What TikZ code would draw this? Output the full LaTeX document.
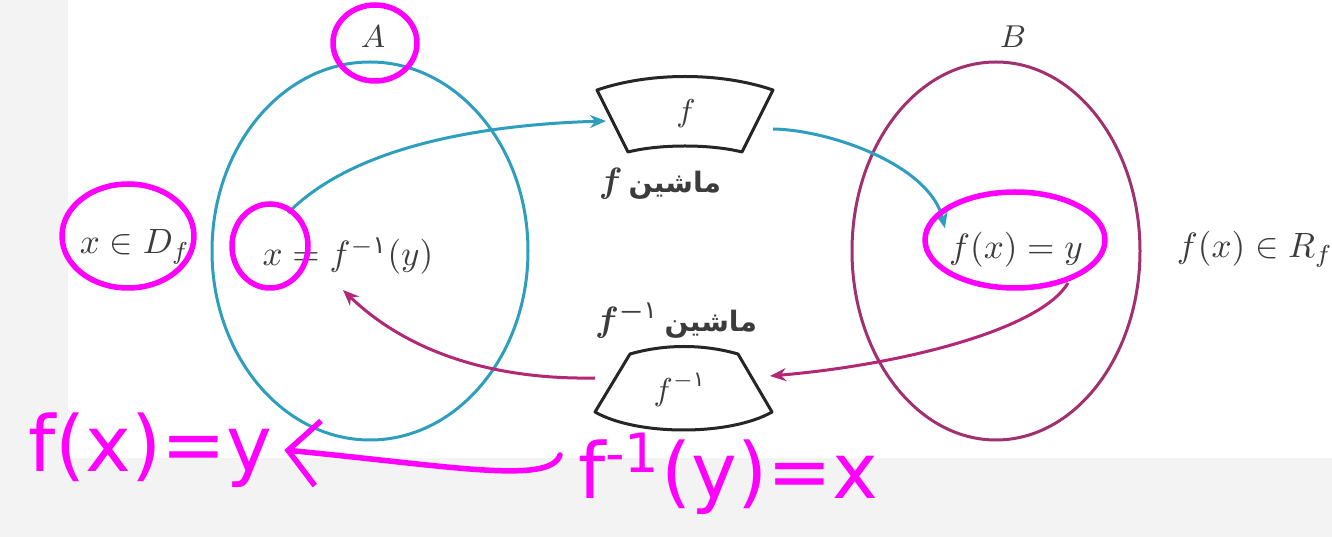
\documentclass[tikz,border=0pt]{standalone}
\usepackage{fontspec}
\usepackage{amsmath}
\usetikzlibrary{arrows.meta, positioning}
\TeXXeTstate=1
\newfontfamily\arabicfont[Script=Arabic]{DejaVu Sans}
\newfontfamily\handfont{DejaVu Sans}
\definecolor{setcyan}{RGB}{46,158,190}
\definecolor{setplum}{RGB}{160,48,110}
\definecolor{arrplum}{RGB}{178,40,118}
\definecolor{inkgray}{RGB}{60,60,60}
\definecolor{penpink}{RGB}{255,0,255}
\definecolor{paper}{RGB}{243,243,243}
\newcommand{\pone}{\text{\arabicfont ۱}}

\begin{document}
\begin{tikzpicture}[x=0.1mm, y=-0.1mm,
  setA/.style={draw=setcyan, line width=0.3mm},
  setB/.style={draw=setplum, line width=0.3mm},
  lbl/.style={text=inkgray, inner sep=1pt},
  machine/.style={draw=black!85, line width=0.3mm, line join=round},
  farr/.style={-{Stealth[length=1.6mm, width=1.3mm]}, draw=setcyan, line width=0.3mm},
  barr/.style={-{Stealth[length=1.6mm, width=1.3mm]}, draw=arrplum, line width=0.3mm},
  hand/.style={draw=penpink, line width=0.55mm, line cap=round, line join=round},
  handtxt/.style={text=penpink, font=\handfont\fontsize{22}{26}\selectfont},
]

% Paper
\fill[paper] (0,0) rectangle (1332,537);
\fill[white] (68,0) rectangle (1332,458);
\useasboundingbox (0,0) rectangle (1332,537);

% Sets
\draw[setA] (370,251) ellipse [x radius=158, y radius=189];
\draw[setB] (996,251) ellipse [x radius=144, y radius=189];
\node[lbl, font=\small] (lA) at (373,37) {$A$};
\node[lbl, font=\small] (lB) at (1013,37) {$B$};

% Elements
\node[lbl] (xdf) at (135,247) {$x \in D_f$};
\node[lbl] (xeq) at (348,256) {$x = f^{-\pone}(y)$};
\node[lbl] (fxy) at (1016,250) {$f(x) = y$};
\node[lbl] (frf) at (1255,249) {$f(x) \in R_f$};

% Machines
\draw[machine] (597,90) .. controls (650,72) and (720,72) .. (773,90)
  -- (742,152) .. controls (710,144) and (660,144) .. (628,152) -- cycle;
\node[lbl, font=\small] (mf) at (686,114) {$f$};
\node[lbl] (mfname) at (660,184) {{\boldmath$f$}\,{\arabicfont\bfseries\footnotesize\beginR ماشین\endR}};

\draw[machine] (630,354) .. controls (665,344) and (703,344) .. (738,354)
  -- (772,412) .. controls (730,436) and (637,436) .. (595,412) -- cycle;
\node[lbl, font=\small] (mfi) at (680,390) {$f^{-\pone}$};
\node[lbl] (mfiname) at (676,320) {{\boldmath$f^{-\pone}$}\,{\arabicfont\bfseries\footnotesize\beginR ماشین\endR}};

% Ports
\coordinate (xs)   at (288,213);
\coordinate (fin)  at (606,121);
\coordinate (fout) at (773,129);
\coordinate (ys)   at (1068,283);
\coordinate (gin)  at (770,376);
\coordinate (gout) at (595,378);
\coordinate (xe)   at (343,290);

% Arrows
\draw[farr] (xs) .. controls (350,150) and (470,125) .. (fin);
\draw[farr] (fout) .. controls (830,130) and (930,165) .. (fxy.north west);
\draw[barr] (ys) .. controls (1040,330) and (900,365) .. (gin);
\draw[barr] (gout) .. controls (480,380) and (400,345) .. (xe);

% Handwritten notes
\draw[hand] (375,43) ellipse [x radius=42, y radius=38];
\draw[hand] (128,236) ellipse [x radius=66, y radius=52];
\draw[hand] (270,246) ellipse [x radius=38, y radius=42];
\draw[hand] (1015,240) ellipse [x radius=90, y radius=48];

\node[handtxt] (hfx) at (150,450) {f(x)=y};
\node[handtxt] (hfi) at (728,474) {f\textsuperscript{-1}(y)=x};
\coordinate (hk) at (560,455);
\draw[hand, -{Straight Barb[length=3mm, width=6.5mm]}] (hk) .. controls (550,485) and (450,466) .. (hfx.east);

\end{tikzpicture}
\end{document}
